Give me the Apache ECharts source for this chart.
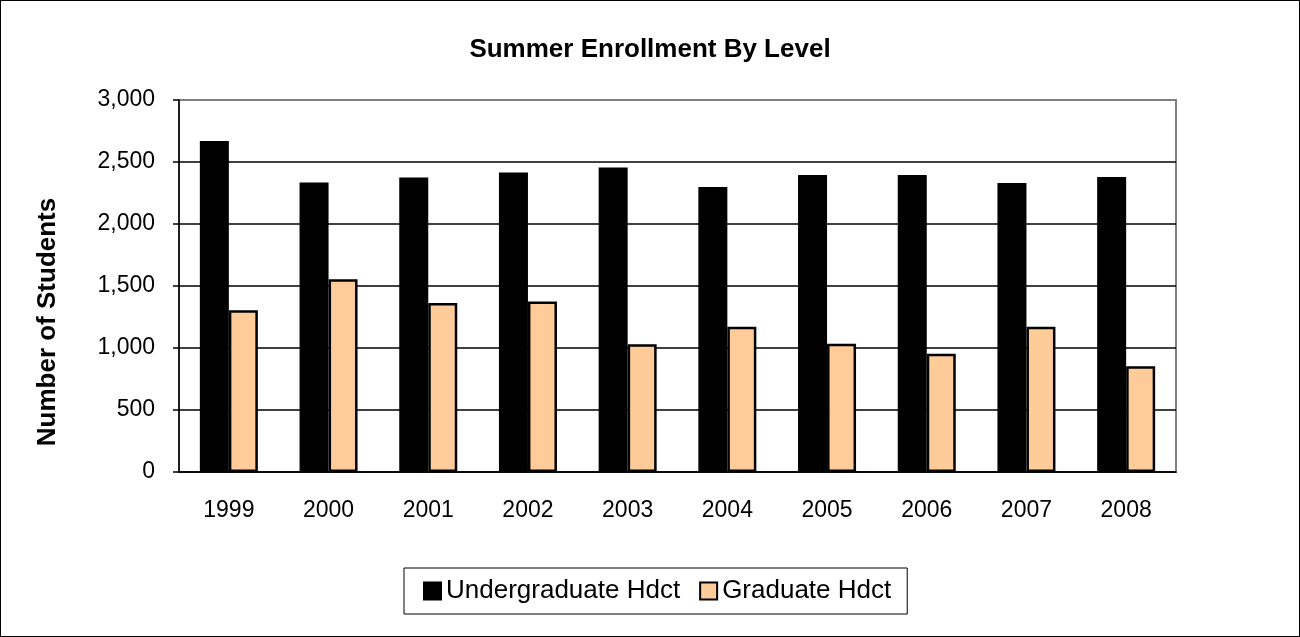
<!DOCTYPE html>
<html>
<head>
<meta charset="utf-8">
<script src="https://cdn.jsdelivr.net/npm/echarts@6/dist/echarts.min.js"></script>
<style>
    html, body { margin: 0; padding: 0; background: #fff; }
    #chart { width: 1300px; height: 637px; box-sizing: border-box; border: 1px solid #000; }
</style>
</head>
<body>
<div id="chart"></div>
<script>
var years = ['1999', '2000', '2001', '2002', '2003', '2004', '2005', '2006', '2007', '2008']
var undergrad = [2670, 2335, 2375, 2415, 2455, 2298, 2395, 2395, 2330, 2380]
var graduate = [1305, 1555, 1362, 1374, 1030, 1172, 1035, 954, 1172, 852]

var font = 'Liberation Sans, Arial, sans-serif'

var myChart = echarts.init(document.getElementById('chart'))
var option = {
    animation: false,
    backgroundColor: '#fff',
    title: {
        text: 'Summer Enrollment By Level',
        left: 'center',
        top: 31,
        textStyle: { fontFamily: font, fontSize: 26, fontWeight: 'bold', color: '#000' }
    },
    legend: {
        bottom: 22,
        left: 403,
        itemWidth: 17,
        itemHeight: 17,
        itemGap: 19,
        padding: [10, 16, 10, 19],
        borderColor: '#000',
        borderWidth: 1,
        textStyle: { fontFamily: font, fontSize: 26, color: '#000' },
        data: [
            { name: 'Undergraduate Hdct', icon: 'rect' },
            { name: 'Graduate Hdct', icon: 'rect' }
        ]
    },
    grid: {
        left: 178,
        right: 123,
        top: 99,
        bottom: 164,
        show: true,
        borderColor: '#808080',
        borderWidth: 2
    },
    xAxis: {
        type: 'category',
        data: years,
        axisLine: { lineStyle: { color: '#000', width: 1.5 } },
        axisTick: { length: 6, lineStyle: { color: '#000', width: 1.5 } },
        axisLabel: { margin: 27, fontFamily: font, fontSize: 23, color: '#000' }
    },
    yAxis: {
        type: 'value',
        min: 0,
        max: 3000,
        interval: 500,
        name: 'Number of Students',
        nameLocation: 'middle',
        nameGap: 118,
        nameTextStyle: {
            fontFamily: font, fontSize: 26, fontWeight: 'bold', color: '#000',
            padding: [0, 72, 0, 0]
        },
        axisLine: { show: true, lineStyle: { color: '#000', width: 1.5 } },
        axisTick: { show: true, length: 6, lineStyle: { color: '#000', width: 1.5 } },
        axisLabel: {
            margin: 24, fontFamily: font, fontSize: 23, color: '#000',
            formatter: function (v) { return v.toLocaleString('en-US') }
        },
        // top line stays grey like the plot border
        splitLine: { lineStyle: { color: ['#000', '#000', '#000', '#000', '#000', '#000', '#808080'], width: 1.5 } }
    },
    series: [
        {
            name: 'Undergraduate Hdct',
            type: 'bar',
            data: undergrad,
            barWidth: 29,
            barGap: '0%',
            itemStyle: { color: '#000', borderColor: '#000', borderWidth: 2 }
        },
        {
            name: 'Graduate Hdct',
            type: 'bar',
            data: graduate,
            barWidth: 29,
            barGap: '0%',
            itemStyle: { color: '#FFCC99', borderColor: '#000', borderWidth: 2.5 }
        }
    ]
}
myChart.setOption(option, true)
</script>
</body>
</html>
